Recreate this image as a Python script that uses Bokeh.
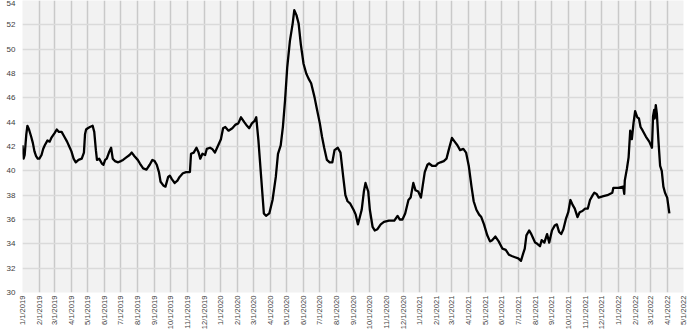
import pandas as pd
from bokeh.plotting import figure
from bokeh.models import Range1d, FixedTicker, CustomJSTickFormatter, ColumnDataSource
from bokeh.embed import file_html
from bokeh.resources import INLINE
import math

dates = [
"2019-01-01","2019-01-03","2019-01-05","2019-01-08","2019-01-10","2019-01-13","2019-01-17","2019-01-20","2019-01-23","2019-01-26","2019-01-29",
"2019-02-01","2019-02-05","2019-02-08","2019-02-11","2019-02-16","2019-02-20","2019-02-23",
"2019-03-01","2019-03-05","2019-03-09","2019-03-14","2019-03-19","2019-03-24","2019-03-28",
"2019-04-01","2019-04-05","2019-04-09","2019-04-14","2019-04-20","2019-04-24","2019-04-26","2019-04-28",
"2019-05-01","2019-05-05","2019-05-10","2019-05-13","2019-05-16","2019-05-18","2019-05-22","2019-05-27","2019-05-30",
"2019-06-02","2019-06-05","2019-06-09","2019-06-13","2019-06-16","2019-06-20","2019-06-26",
"2019-07-01","2019-07-05","2019-07-11","2019-07-17","2019-07-21","2019-07-26",
"2019-08-01","2019-08-05","2019-08-11","2019-08-17","2019-08-23","2019-08-28",
"2019-09-01","2019-09-05","2019-09-09","2019-09-12","2019-09-17","2019-09-21","2019-09-26","2019-09-29",
"2019-10-03","2019-10-08","2019-10-13","2019-10-17","2019-10-23","2019-10-29",
"2019-11-01","2019-11-05","2019-11-07","2019-11-12","2019-11-17","2019-11-21","2019-11-24","2019-11-28",
"2019-12-03","2019-12-06","2019-12-12","2019-12-16","2019-12-21","2019-12-25",
"2020-01-01","2020-01-05","2020-01-09","2020-01-15","2020-01-22","2020-01-28",
"2020-02-02","2020-02-07","2020-02-13","2020-02-18","2020-02-22","2020-02-27",
"2020-03-03","2020-03-06","2020-03-10","2020-03-15","2020-03-20","2020-03-24","2020-03-30",
"2020-04-05","2020-04-11","2020-04-15","2020-04-20","2020-04-24","2020-04-28",
"2020-05-02","2020-05-07","2020-05-12","2020-05-15","2020-05-19","2020-05-23","2020-05-27",
"2020-06-01","2020-06-06","2020-06-10","2020-06-15","2020-06-21","2020-06-25",
"2020-07-01","2020-07-05","2020-07-09","2020-07-14","2020-07-19","2020-07-24","2020-07-28",
"2020-08-03","2020-08-08","2020-08-13","2020-08-17","2020-08-21","2020-08-26",
"2020-09-01","2020-09-05","2020-09-09","2020-09-12","2020-09-16","2020-09-20","2020-09-23","2020-09-28",
"2020-10-01","2020-10-06","2020-10-10","2020-10-15","2020-10-21","2020-10-27",
"2020-11-05","2020-11-15","2020-11-21","2020-11-25","2020-11-30",
"2020-12-05","2020-12-11","2020-12-15","2020-12-20","2020-12-24","2020-12-29",
"2021-01-03","2021-01-06","2021-01-10","2021-01-15","2021-01-18","2021-01-24","2021-01-30",
"2021-02-03","2021-02-08","2021-02-14","2021-02-19","2021-02-23",
"2021-03-01","2021-03-06","2021-03-11","2021-03-16","2021-03-22","2021-03-27",
"2021-04-01","2021-04-06","2021-04-10","2021-04-15","2021-04-20","2021-04-24","2021-04-29",
"2021-05-05","2021-05-10","2021-05-14","2021-05-20","2021-05-26",
"2021-06-02","2021-06-08","2021-06-14","2021-06-19","2021-06-25",
"2021-07-01","2021-07-06","2021-07-10","2021-07-13","2021-07-16","2021-07-21","2021-07-25","2021-07-28",
"2021-08-01","2021-08-05","2021-08-10","2021-08-13","2021-08-18","2021-08-23","2021-08-27",
"2021-09-01","2021-09-06","2021-09-10","2021-09-14","2021-09-18","2021-09-22","2021-09-27",
"2021-10-01","2021-10-05","2021-10-09","2021-10-13","2021-10-18","2021-10-22","2021-10-27",
"2021-11-01","2021-11-06","2021-11-10","2021-11-15","2021-11-18","2021-11-22","2021-11-26",
"2021-12-03","2021-12-12","2021-12-21","2021-12-23",
"2022-01-01","2022-01-10","2022-01-12","2022-01-13","2022-01-17","2022-01-20","2022-01-23","2022-01-26","2022-01-29",
"2022-02-01","2022-02-05","2022-02-08","2022-02-11","2022-02-15","2022-02-21","2022-02-27",
"2022-03-04","2022-03-06","2022-03-08","2022-03-09","2022-03-11","2022-03-13","2022-03-16","2022-03-19","2022-03-22","2022-03-25","2022-03-28",
"2022-04-01","2022-04-05",
]

values = [
42.1,41.0,41.3,43.0,43.7,43.4,42.8,42.3,41.6,41.2,41.0,
41.0,41.3,41.8,42.1,42.5,42.4,42.7,
43.1,43.4,43.2,43.2,42.8,42.4,42.0,
41.6,41.0,40.7,40.9,41.0,41.5,43.0,43.4,
43.5,43.6,43.7,43.2,41.7,40.9,41.0,40.6,40.5,
40.9,41.0,41.5,41.9,41.0,40.8,40.7,
40.8,40.9,41.1,41.3,41.5,41.2,
40.9,40.6,40.2,40.1,40.5,40.9,
40.8,40.5,39.9,39.1,38.8,38.7,39.5,39.6,
39.3,39.0,39.2,39.5,39.8,39.9,
39.9,39.9,41.4,41.5,41.9,41.5,41.0,41.4,
41.3,41.8,41.9,41.8,41.5,41.9,
42.6,43.5,43.6,43.3,43.5,43.8,
43.9,44.4,44.0,43.7,43.5,43.9,
44.1,44.4,42.5,39.5,36.5,36.3,36.5,
37.6,39.5,41.4,42.1,43.6,45.8,
48.5,50.7,52.1,53.2,52.8,52.1,50.4,
48.8,48.0,47.6,47.2,46.1,45.2,
43.9,42.8,41.9,40.9,40.7,40.7,41.7,
41.9,41.5,39.5,38.0,37.5,37.3,
36.8,36.4,35.6,36.1,36.8,38.3,39.0,38.3,
36.8,35.4,35.1,35.2,35.6,35.8,
35.9,35.9,36.3,36.0,36.0,
36.5,37.6,37.8,39.0,38.4,38.3,
37.8,38.7,39.9,40.5,40.6,40.4,40.4,
40.6,40.7,40.8,41.0,41.7,
42.7,42.4,42.1,41.7,41.8,41.5,
40.4,38.7,37.5,36.8,36.4,36.2,35.6,
34.7,34.2,34.3,34.6,34.2,
33.6,33.5,33.1,33.0,32.9,
32.8,32.6,33.2,33.6,34.7,35.1,34.8,34.5,
34.1,34.0,33.8,34.3,34.1,34.8,34.1,
35.1,35.5,35.6,35.0,34.8,35.2,36.1,
36.6,37.6,37.2,36.9,36.2,36.6,36.7,
36.9,36.9,37.6,38.0,38.2,38.1,37.8,
37.9,38.0,38.2,38.6,
38.6,38.7,38.1,39.2,40.2,41.1,43.3,42.6,43.9,
44.9,44.4,44.3,43.6,43.3,42.8,42.4,
41.9,44.5,45.0,44.3,45.4,44.7,42.4,40.4,40.0,38.7,38.2,
37.8,36.5,
]

tick_dates = [f"{y}-{m:02d}-01" for y in (2019, 2020, 2021, 2022) for m in range(1, 13)][:41]
tick_labels = [f"{int(d[5:7])}/1/{d[:4]}" for d in tick_dates]
y_ticks = list(range(30, 56, 2))

x = pd.to_datetime(dates)
src = ColumnDataSource(dict(x=x, y=values))
tick_ms = [pd.Timestamp(d).value / 1e6 for d in tick_dates]

p = figure(width=691, height=336, x_axis_type="datetime", output_backend="svg",
           toolbar_location=None,
           x_range=Range1d(pd.Timestamp("2019-01-01"), pd.Timestamp("2022-05-01")),
           y_range=Range1d(30, 54))
p.min_border_left = 22
p.min_border_right = 8
p.min_border_top = 0
p.min_border_bottom = 44
p.border_fill_color = "white"
p.background_fill_color = "#f2f2f2"
p.outline_line_color = None

p.xaxis.ticker = FixedTicker(ticks=tick_ms)
p.xaxis.formatter = CustomJSTickFormatter(args=dict(tvals=tick_ms, tlabels=tick_labels), code="""
const i = tvals.indexOf(tick);
return i >= 0 ? tlabels[i] : "";
""")
p.xaxis.major_label_orientation = math.pi / 2
p.yaxis.ticker = FixedTicker(ticks=y_ticks)

for ax in (p.xaxis, p.yaxis):
    ax.axis_line_color = None
    ax.major_tick_line_color = None
    ax.minor_tick_line_color = None
    ax.major_tick_out = 0
    ax.major_tick_in = 0
    ax.minor_tick_out = 0
    ax.major_label_text_font = "Liberation Sans"
    ax.major_label_text_color = "#404040"
p.xaxis.major_label_text_font_size = "7.6px"
p.yaxis.major_label_text_font_size = "8px"
p.xaxis.major_label_standoff = 3
p.yaxis.major_label_standoff = 7

p.xgrid.grid_line_color = "#c9c9c9"
p.xgrid.grid_line_width = 1.5
p.ygrid.grid_line_color = "#dadada"
p.ygrid.grid_line_width = 1.5

p.line("x", "y", source=src, line_color="black", line_width=2.3, line_join="round")

open("out.html", "w").write(file_html(p, INLINE))
